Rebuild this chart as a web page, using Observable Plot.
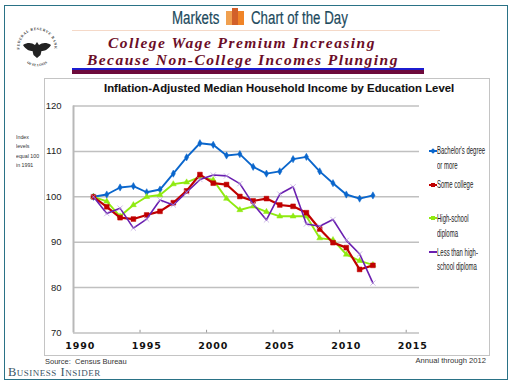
<!DOCTYPE html>
<html>
<head>
<meta charset="utf-8">
<script src="https://cdn.jsdelivr.net/npm/d3@7"></script>
<script src="https://cdn.jsdelivr.net/npm/@observablehq/plot@0.6"></script>
<style>
html,body{margin:0;padding:0;background:#fff;}
#page{position:relative;width:512px;height:384px;overflow:hidden;background:#fff;font-family:"Liberation Sans",Arial,sans-serif;}
#page>div,#page>svg{position:absolute;}
.t{white-space:nowrap;line-height:1;}
.frame{left:4px;top:5px;width:502px;height:373px;border:1.5px solid #2a7286;}
.box{left:44px;top:78px;width:444px;height:276px;border:1.5px solid #c4c4c4;}
.head{font-size:17.5px;color:#1d4a5d;top:10px;transform:scaleX(.76);transform-origin:left center;-webkit-text-stroke:.2px #1d4a5d;}
.ttl{font-family:"Liberation Serif",serif;font-style:italic;font-weight:bold;font-size:15.5px;letter-spacing:1.45px;color:#6b0d27;}
.leg{font-size:10.5px;color:#222;left:437px;transform:scaleX(.57);transform-origin:left center;}
.sw{left:429px;width:8px;height:1.5px;}
.mk{left:431px;width:4px;height:4px;}
#chart [aria-label="x-axis tick label"] text{letter-spacing:.9px;}
</style>
</head>
<body>
<div id="page">
  <div class="frame"></div>
  <div class="t head" style="left:172px">Markets</div>
  <div style="left:226px;top:11px;width:6px;height:14px;background:#f0a050"></div>
  <div style="left:232px;top:8px;width:6px;height:17px;background:#d2602a"></div>
  <div style="left:238px;top:11px;width:6px;height:14px;background:#f08428"></div>
  <div class="t head" style="left:251px">Chart of the Day</div>
  <div style="left:72px;top:30px;width:368px;height:1px;background:#f5d9c8"></div>
  <svg style="left:13px;top:24px" width="48" height="48" viewBox="0 0 48 48">
    <defs><path id="arc" d="M7.4 29 A17.5 17.5 0 1 1 40.6 29"/><path id="arc2" d="M8 33 A18.5 18.5 0 0 0 40 33"/></defs>
    <text font-size="3.7" font-weight="bold" fill="#333" font-family="Liberation Serif" text-anchor="middle" letter-spacing=".55"><textPath href="#arc" startOffset="50%">FEDERAL RESERVE BANK</textPath></text>
    <text font-size="3.4" font-weight="bold" fill="#333" font-family="Liberation Serif" text-anchor="middle"><textPath href="#arc2" startOffset="50%">OF ST. LOUIS</textPath></text>
    <path d="M10 21 C15 18 19 19 22 21 L24 18 L26 21 C29 19 33 18 38 21 C35 26 31 27 28.5 27 L27.5 31 L24 34 L20.5 31 L19.5 27 C17 27 13 26 10 21Z" fill="#222"/>
  </svg>
  <div class="t ttl" style="left:108px;top:35px">College Wage Premium Increasing</div>
  <div class="t ttl" style="left:87px;top:51.5px">Because Non-College Incomes Plunging</div>
  <div style="left:72px;top:68px;width:352px;height:2px;background:#1c1cd0"></div>
  <div style="left:72px;top:70px;width:352px;height:4px;background:#6d0a3c"></div>
  <div class="box"></div>
  <div class="t" style="left:104px;top:83px;font-weight:bold;font-size:11.3px;letter-spacing:.03px;color:#111;-webkit-text-stroke:.1px #111">Inflation-Adjusted Median Household Income by Education Level</div>
  <div class="t" style="left:16px;top:132px;font-size:6.2px;line-height:9.3px;color:#333;transform:scaleX(.85);transform-origin:left center">Index<br>levels<br>equal 100<br>in 1991</div>

  <div class="sw" style="top:150px;background:#0a66cc"></div><div class="mk" style="top:149px;background:#0a66cc;transform:rotate(45deg)"></div>
  <div class="t leg" style="top:145px">Bachelor's degree</div>
  <div class="t leg" style="top:160px">or more</div>
  <div class="sw" style="top:184px;background:#c00000"></div><div class="mk" style="top:183px;background:#c00000"></div>
  <div class="t leg" style="top:179px">Some college</div>
  <div class="sw" style="top:217px;background:#8fea10"></div><div class="mk" style="top:216px;background:#8fea10"></div>
  <div class="t leg" style="top:213px">High-school</div>
  <div class="t leg" style="top:228px">diploma</div>
  <div class="sw" style="top:251px;background:#6a1fb0"></div>
  <div class="t leg" style="top:247px">Less than high-</div>
  <div class="t leg" style="top:261px">school diploma</div>

  <div class="t" style="left:45px;top:358px;font-size:7.5px;color:#333">Source:&nbsp; Census Bureau</div>
  <div class="t" style="right:26px;top:356.5px;font-size:7.6px;color:#333">Annual through 2012</div>
  <div class="t" style="left:8px;top:365.5px;font-family:'Liberation Serif',serif;font-size:12.5px;font-variant:small-caps;letter-spacing:.5px;color:#3d5566">Business Insider</div>
  <div id="chart" style="left:0;top:0;"></div>
</div>
<script>
const years = [1991,1992,1993,1994,1995,1996,1997,1998,1999,2000,2001,2002,2003,2004,2005,2006,2007,2008,2009,2010,2011,2012];
const bachelors = [100,100.5,102.05,102.35,101,101.6,105.1,108.7,111.8,111.45,109.1,109.4,106.6,105.1,105.6,108.3,108.8,105.6,103,100.5,99.6,100.3];
const someCollege = [100,97.8,95.4,95.1,96,96.8,98.7,101.3,104.9,103,102.7,100.07,99.1,99.6,98.2,97.9,96.5,92.9,89.9,88.8,84,84.9];
const highSchool = [100,99,95.7,98.2,100,100.4,102.8,103.2,104.4,103.7,99.6,97.1,97.9,96.7,95.7,95.7,95.7,90.9,90.5,87.3,85.9,85];
const lessThanHS = [100,96.3,97.5,93.1,95.1,99.3,98.2,101,103.8,104.8,104.6,102.9,98.4,94.9,100.6,102.2,94,93.5,95,90.4,87.4,81];
const yTicks = [70,80,90,100,110,120];
const xLabels = [1990,1995,2000,2005,2010,2015];
const xTickEdges = [1994.5,1999.5,2004.5,2009.5,2014.5];
const table = v => years.map((year,i)=>({year,value:v[i]}));

const series = (v,color,symbol,r,w=1.9) => [
  Plot.lineY(table(v),{x:"year",y:"value",stroke:color,strokeWidth:w,curve:"linear"}),
  Plot.dot(table(v),{x:"year",y:"value",fill:color,stroke:color,strokeWidth:.5,symbol,r})
];

const chart = Plot.plot({
  width:512,height:384,
  marginLeft:73,marginRight:93,marginTop:105.5,marginBottom:51.5,
  style:{background:"transparent",overflow:"visible"},
  x:{domain:[1989.5,2015.5],label:null},
  y:{domain:[70,120],label:null},
  marks:[
    Plot.ruleY(yTicks,{stroke:"#c0c0c0",strokeWidth:1.5}),
    Plot.ruleX([1989.5],{stroke:"#b8b8b8",strokeWidth:2}),
    Plot.ruleX(xTickEdges,{y1:70,y2:70.6,stroke:"#999",strokeWidth:1}),
    Plot.axisY({ticks:yTicks,tickSize:0,tickPadding:12,label:null,fontSize:9.5,fill:"#222",fontFamily:"Liberation Sans"}),
    Plot.axisX({ticks:xLabels,tickSize:0,tickPadding:9,tickFormat:d=>String(d),label:null,fontSize:9.5,fontWeight:"bold",fill:"#111",fontFamily:"DejaVu Sans"}),
    ...series(bachelors,"#0a66cc","diamond",2.2),
    ...series(highSchool,"#8fea10","triangle",2.2),
    ...series(someCollege,"#c00000","square",2.7,2.2),
    Plot.lineY(table(lessThanHS),{x:"year",y:"value",stroke:"#6a1fb0",strokeWidth:1.6}),
    Plot.dot(table(lessThanHS),{x:"year",y:"value",stroke:"#b9a0dc",strokeWidth:.7,symbol:"times",r:2.5})
  ]
});
document.getElementById("chart").appendChild(chart);
</script>
</body>
</html>
